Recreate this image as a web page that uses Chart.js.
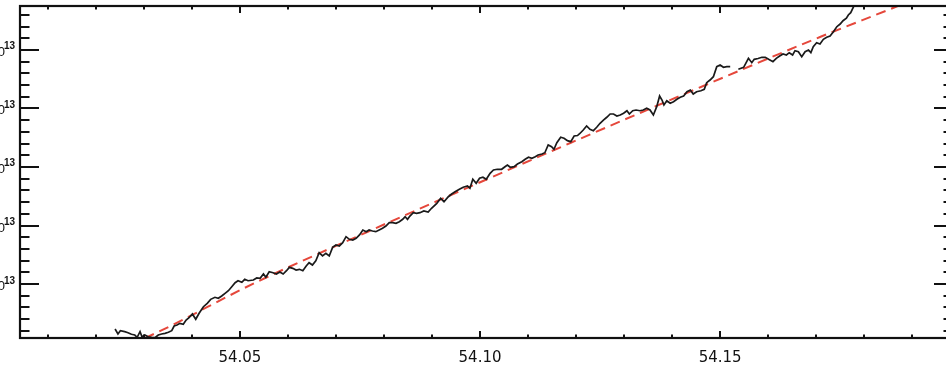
<!DOCTYPE html>
<html>
<head>
<meta charset="utf-8">
<script src="https://cdn.jsdelivr.net/npm/chart.js@4.4.1/dist/chart.umd.min.js"></script>
<style>
  html, body { margin: 0; padding: 0; background: #ffffff; overflow: hidden; }
  body { width: 946px; height: 369px; position: relative; }
  #wrap { position: absolute; left: -80px; top: 0; width: 1046px; height: 369px; }
  canvas { display: block; }
</style>
</head>
<body>
<div id="wrap"><canvas id="c" width="1046" height="369"></canvas></div>
<script>
// Measured series (y in units of 10^13); null marks the break in coverage
const obsX = [
  54.0240, 54.0246, 54.0251, 54.0260, 54.0267, 54.0274, 54.0281, 54.0286, 54.0292, 54.0296,
  54.0302, 54.0309, 54.0316, 54.0323, 54.0330, 54.0337, 54.0344, 54.0351, 54.0358, 54.0363,
  54.0369, 54.0375, 54.0382, 54.0388, 54.0394, 54.0401, 54.0408, 54.0415, 54.0424, 54.0432,
  54.0439, 54.0448, 54.0455, 54.0462, 54.0469, 54.0476, 54.0483, 54.0490, 54.0496, 54.0504,
  54.0510, 54.0517, 54.0528, 54.0535, 54.0542, 54.0549, 54.0554, 54.0561, 54.0569, 54.0576,
  54.0583, 54.0590, 54.0597, 54.0603, 54.0610, 54.0617, 54.0624, 54.0631, 54.0638, 54.0644,
  54.0651, 54.0658, 54.0665, 54.0672, 54.0679, 54.0686, 54.0693, 54.0700, 54.0707, 54.0714,
  54.0721, 54.0728, 54.0735, 54.0742, 54.0749, 54.0756, 54.0763, 54.0769, 54.0776, 54.0783,
  54.0790, 54.0797, 54.0804, 54.0811, 54.0818, 54.0825, 54.0832, 54.0839, 54.0844, 54.0849,
  54.0854, 54.0861, 54.0868, 54.0875, 54.0883, 54.0892, 54.0899, 54.0910, 54.0918, 54.0925,
  54.0934, 54.0941, 54.0948, 54.0957, 54.0965, 54.0974, 54.0979, 54.0985, 54.0992, 54.0999,
  54.1006, 54.1013, 54.1021, 54.1028, 54.1036, 54.1045, 54.1052, 54.1057, 54.1063, 54.1071,
  54.1078, 54.1087, 54.1094, 54.1101, 54.1108, 54.1115, 54.1121, 54.1129, 54.1135, 54.1142,
  54.1149, 54.1154, 54.1160, 54.1168, 54.1175, 54.1182, 54.1189, 54.1196, 54.1203, 54.1208,
  54.1215, 54.1222, 54.1229, 54.1236, 54.1243, 54.1250, 54.1257, 54.1264, 54.1271, 54.1278,
  54.1285, 54.1292, 54.1299, 54.1306, 54.1311, 54.1318, 54.1325, 54.1333, 54.1340, 54.1347,
  54.1354, 54.1361, 54.1368, 54.1374, 54.1379, 54.1383, 54.1389, 54.1396, 54.1403, 54.1410,
  54.1417, 54.1424, 54.1431, 54.1438, 54.1444, 54.1451, 54.1460, 54.1467, 54.1472, 54.1479,
  54.1486, 54.1493, 54.1500, 54.1507, 54.1514, 54.1521, 54.1530, 54.1538, 54.1549, 54.1559,
  54.1566, 54.1571, 54.1579, 54.1587, 54.1594, 54.1601, 54.1610, 54.1617, 54.1624, 54.1631,
  54.1638, 54.1644, 54.1651, 54.1656, 54.1663, 54.1670, 54.1677, 54.1684, 54.1689, 54.1694,
  54.1701, 54.1708, 54.1715, 54.1722, 54.1729, 54.1736, 54.1743, 54.1750, 54.1756, 54.1763,
  54.1767, 54.1772, 54.1778, 54.1783
];
const obsY = [
  0.231, 0.145, 0.202, 0.185, 0.168, 0.140, 0.128, 0.089, 0.185, 0.099,
  0.128, 0.099, 0.089, 0.082, 0.128, 0.145, 0.157, 0.174, 0.202, 0.282,
  0.299, 0.328, 0.311, 0.385, 0.424, 0.487, 0.397, 0.499, 0.612, 0.670,
  0.738, 0.773, 0.756, 0.795, 0.841, 0.885, 0.954, 1.022, 1.056, 1.029,
  1.080, 1.056, 1.068, 1.103, 1.097, 1.171, 1.115, 1.210, 1.193, 1.171,
  1.205, 1.171, 1.227, 1.285, 1.268, 1.239, 1.251, 1.227, 1.308, 1.364,
  1.325, 1.398, 1.535, 1.479, 1.525, 1.479, 1.627, 1.667, 1.650, 1.706,
  1.809, 1.764, 1.752, 1.781, 1.838, 1.923, 1.894, 1.923, 1.906, 1.894,
  1.923, 1.952, 1.991, 2.048, 2.048, 2.038, 2.065, 2.106, 2.150, 2.106,
  2.162, 2.219, 2.209, 2.219, 2.248, 2.231, 2.294, 2.379, 2.465, 2.407,
  2.492, 2.538, 2.578, 2.619, 2.653, 2.675, 2.636, 2.790, 2.721, 2.807,
  2.824, 2.790, 2.892, 2.949, 2.961, 2.961, 3.005, 3.034, 2.995, 3.005,
  3.051, 3.091, 3.132, 3.166, 3.149, 3.176, 3.205, 3.222, 3.244, 3.376,
  3.347, 3.303, 3.415, 3.508, 3.491, 3.450, 3.433, 3.530, 3.538, 3.573,
  3.632, 3.701, 3.644, 3.621, 3.679, 3.747, 3.803, 3.850, 3.906, 3.906,
  3.872, 3.889, 3.918, 3.962, 3.906, 3.962, 3.974, 3.962, 3.974, 4.003,
  3.974, 3.889, 4.031, 4.214, 4.145, 4.060, 4.133, 4.089, 4.116, 4.157,
  4.191, 4.214, 4.287, 4.316, 4.248, 4.287, 4.304, 4.328, 4.441, 4.487,
  4.544, 4.715, 4.744, 4.704, 4.715, 4.715, null, 4.670, 4.704, 4.858,
  4.783, 4.841, 4.855, 4.875, 4.875, 4.841, 4.800, 4.858, 4.897, 4.932,
  4.915, 4.954, 4.915, 4.988, 4.971, 4.885, 4.971, 5.000, 4.954, 5.056,
  5.125, 5.103, 5.183, 5.217, 5.239, 5.313, 5.398, 5.444, 5.501, 5.542,
  5.598, 5.638, 5.740, 5.855
];

// Fitted trend
const fitX = [54.0271, 54.0298, 54.0535, 54.0765, 54.1188, 54.1465, 54.1708, 54.1860, 54.1896];
const fitY = [-0.026, 0.060, 1.034, 1.889, 3.410, 4.385, 5.222, 5.718, 5.838];

// Axis ticks
const xTickValues = [54.05, 54.10, 54.15];
const xTickLabels = ['54.05', '54.10', '54.15'];
const yTickValues = [1, 2, 3, 4, 5];
const yTickLabels = ['1×10', '2×10', '3×10', '4×10', '5×10'];
const yTickExponent = '13';

const X_MIN = 54.0042, X_MAX = 54.1985;
const Y_MIN = 0.077, Y_MAX = 5.752;
const X_MINOR = 0.01, Y_MINOR = 0.2;

const toPoints = (xs, ys) => xs.map((x, i) => ({ x: x, y: ys[i] }));

// Boxed frame with inward ticks on all four sides
const frame = {
  id: 'frame',
  afterDraw(chart) {
    const { ctx, chartArea: a, scales } = chart;
    const xs = scales.x, ys = scales.y;
    ctx.save();
    ctx.strokeStyle = '#111';
    ctx.fillStyle = '#111';
    ctx.lineWidth = 2.2;
    ctx.strokeRect(a.left, a.top, a.right - a.left, a.bottom - a.top);

    const xMajLen = 7, xMinLen = 3.5, yMajLen = 19, yMinLen = 9.5;
    ctx.lineWidth = 2;
    ctx.beginPath();
    for (let k = Math.ceil(X_MIN / X_MINOR); k * X_MINOR <= X_MAX; k++) {
      const v = k * X_MINOR;
      const major = xTickValues.some(t => Math.abs(t - v) < 1e-6);
      const len = major ? xMajLen : xMinLen;
      const px = Math.round(xs.getPixelForValue(v));
      ctx.moveTo(px, a.bottom); ctx.lineTo(px, a.bottom - len);
      ctx.moveTo(px, a.top); ctx.lineTo(px, a.top + len);
    }
    for (let k = Math.ceil(Y_MIN / Y_MINOR); k * Y_MINOR <= Y_MAX; k++) {
      const v = k * Y_MINOR;
      const major = yTickValues.some(t => Math.abs(t - v) < 1e-6);
      const len = major ? yMajLen : yMinLen;
      const py = Math.round(ys.getPixelForValue(v));
      ctx.moveTo(a.left, py); ctx.lineTo(a.left + len, py);
      ctx.moveTo(a.right, py); ctx.lineTo(a.right - len, py);
    }
    ctx.stroke();

    // x labels
    ctx.font = '15px "DejaVu Sans", sans-serif';
    ctx.textAlign = 'center';
    ctx.textBaseline = 'alphabetic';
    xTickValues.forEach((v, i) => {
      ctx.fillText(xTickLabels[i], xs.getPixelForValue(v), a.bottom + 24);
    });

    // y labels with superscript exponent
    ctx.textAlign = 'right';
    const rightEdge = a.left - 5;
    yTickValues.forEach((v, i) => {
      const py = ys.getPixelForValue(v);
      ctx.font = 'bold 10px "Liberation Sans", Arial, sans-serif';
      const ew = ctx.measureText(yTickExponent).width;
      ctx.fillText(yTickExponent, rightEdge, py - 0.5);
      ctx.font = '13px "Liberation Sans", Arial, sans-serif';
      ctx.fillText(yTickLabels[i], rightEdge - ew + 1, py + 6);
    });
    ctx.restore();
  }
};

new Chart(document.getElementById('c'), {
  type: 'line',
  data: {
    datasets: [
      {
        data: toPoints(obsX, obsY),
        borderColor: '#1a1a1a',
        borderWidth: 1.7,
        pointRadius: 0,
        tension: 0,
        spanGaps: false,
        clip: 0
      },
      {
        data: toPoints(fitX, fitY),
        borderColor: '#e5473b',
        borderWidth: 2,
        borderDash: [10, 6],
        pointRadius: 0,
        cubicInterpolationMode: 'monotone',
        clip: 0
      }
    ]
  },
  options: {
    responsive: false,
    animation: false,
    events: [],
    layout: { padding: { left: 100, right: 13, top: 6, bottom: 31 } },
    plugins: { legend: { display: false }, tooltip: { enabled: false } },
    scales: {
      x: { type: 'linear', min: X_MIN, max: X_MAX, display: false },
      y: { type: 'linear', min: Y_MIN, max: Y_MAX, display: false }
    }
  },
  plugins: [frame]
});
</script>
</body>
</html>
